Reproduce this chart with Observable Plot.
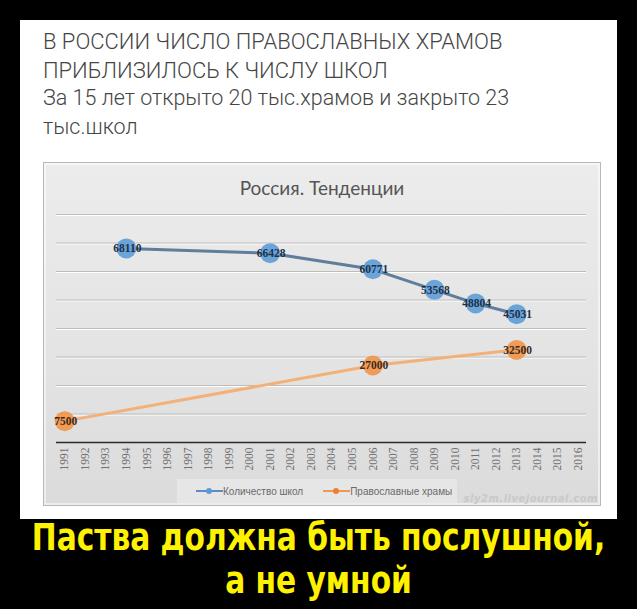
<!DOCTYPE html>
<html>
<head>
<meta charset="utf-8">
<script src="https://cdn.jsdelivr.net/npm/d3@7"></script>
<script src="https://cdn.jsdelivr.net/npm/@observablehq/plot@0.6"></script>
<style>
  html, body { margin: 0; padding: 0; background: #000; }
  #page { position: relative; width: 637px; height: 609px; background: #000; overflow: hidden; }
  #card { position: absolute; left: 20px; top: 20px; width: 597px; height: 499px; background: #fff; }
  .hl { position: absolute; left: 43px; font-family: Roboto, sans-serif; font-weight: 300; font-size: 21.5px; color: #454545; white-space: nowrap; line-height: 1; }
  #panel { position: absolute; left: 43px; top: 162px; width: 556px; height: 342px; border: 1px solid #b8b8b8;
           background: linear-gradient(#ececec, #e3e3e3 60%, #dbdbdb); box-shadow: inset 0 0 0 2px rgba(255,255,255,0.5); }
  #ctitle { position: absolute; left: 0; width: 100%; top: 13px; text-align: center; font-family: Lato, "Open Sans", sans-serif; font-size: 19px; color: #555; }
  #chart { position: absolute; left: 0; top: 37px; }
  #legend { position: absolute; left: 133px; top: 316px; width: 280px; height: 24px; background: rgba(255,255,255,0.3);
            font-family: "Liberation Sans", Arial, sans-serif; font-size: 10px; color: #6a6a6a; display: flex; align-items: center; }
  .key { display: inline-flex; align-items: center; margin-left: 19px; }
  .key + .key { margin-left: 20px; }
  .sw { position: relative; width: 27px; height: 10px; }
  .sw .ln { position: absolute; left: 0; right: 0; top: 4px; height: 2px; }
  .sw .dt { position: absolute; left: 10px; top: 2px; width: 6px; height: 6px; border-radius: 50%; }
  #wm { position: absolute; right: 2px; bottom: 1px; font-family: "DejaVu Sans", sans-serif; font-style: italic; font-weight: bold; font-size: 10px; color: #c9c9c9; letter-spacing: 0.5px; }
  .cap { position: absolute; left: 0; width: 637px; text-align: center; font-family: "DejaVu Sans Condensed", "DejaVu Sans", sans-serif; font-weight: bold; font-size: 33px; color: #fff200; line-height: 1; white-space: nowrap; transform: scaleY(1.12); transform-origin: 50% 0; }
</style>
</head>
<body>
<div id="page">
  <div id="card"></div>
  <div class="hl" style="top:31px; font-size:22px">В РОССИИ ЧИСЛО ПРАВОСЛАВНЫХ ХРАМОВ</div>
  <div class="hl" style="top:60px; font-size:22px">ПРИБЛИЗИЛОСЬ К ЧИСЛУ ШКОЛ</div>
  <div class="hl" style="top:87px">За 15 лет открыто 20 тыс.храмов и закрыто 23</div>
  <div class="hl" style="top:116px">тыс.школ</div>
  <div id="panel">
    <div id="ctitle">Россия. Тенденции</div>
    <div id="chart"></div>
    <div id="legend">
      <span class="key"><span class="sw"><span class="ln" style="background:#5b8fc4"></span><span class="dt" style="background:#5b9bd5"></span></span>Количество школ</span>
      <span class="key"><span class="sw"><span class="ln" style="background:#ee9a55"></span><span class="dt" style="background:#ed7d31"></span></span>Православные храмы</span>
    </div>
    <div id="wm">sly2m.livejournal.com</div>
  </div>
  <div class="cap" style="top:519px">Паства должна быть послушной,</div>
  <div class="cap" style="top:562px">а не умной</div>
</div>
<script>
// Data
const yearTicks = [1991, 1992, 1993, 1994, 1995, 1996, 1997, 1998, 1999, 2000, 2001, 2002, 2003,
                   2004, 2005, 2006, 2007, 2008, 2009, 2010, 2011, 2012, 2013, 2014, 2015, 2016];
const schoolYears = [1994, 2001, 2006, 2009, 2011, 2013];
const schoolValues = [68110, 66428, 60771, 53568, 48804, 45031];
const churchYears = [1991, 2006, 2013];
const churchValues = [7500, 27000, 32500];
const gridValues = [10000, 20000, 30000, 40000, 50000, 60000, 70000, 80000];
const seriesNames = ["Количество школ", "Православные храмы"];

const schools = schoolYears.map((year, i) => ({year, value: schoolValues[i], series: seriesNames[0]}));
const churches = churchYears.map((year, i) => ({year, value: churchValues[i], series: seriesNames[1]}));

const chart = Plot.plot({
  width: 556,
  height: 275,
  marginLeft: 12,
  marginRight: 14,
  marginTop: 14,
  marginBottom: 33,
  style: {background: "transparent", overflow: "visible"},
  x: {domain: [1990.6, 2016.4], label: null},
  y: {domain: [0, 80000], axis: null},
  marks: [
    Plot.ruleY(gridValues, {stroke: "#ffffff", strokeWidth: 1, dy: 1}),
    Plot.ruleY(gridValues, {stroke: "#bdbdbd", strokeWidth: 1.2}),
    Plot.ruleY([0], {stroke: "#2a2a2a", strokeWidth: 1.6}),
    Plot.axisX({ticks: yearTicks, tickFormat: d => String(d), tickRotate: -90, tickSize: 0, tickPadding: 5,
                fontSize: 11.5, fill: "#707070", fontFamily: "Liberation Serif, serif", label: null}),
    Plot.line(churches, {x: "year", y: "value", stroke: "#f3b079", strokeWidth: 3}),
    Plot.line(schools, {x: "year", y: "value", stroke: "#5f7e9c", strokeWidth: 3}),
    Plot.dot(churches, {x: "year", y: "value", r: 10, fill: "#f0984f", fillOpacity: 0.95}),
    Plot.dot(schools, {x: "year", y: "value", r: 10, fill: "#64a0d8", fillOpacity: 0.95}),
    Plot.text(churches, {x: "year", y: "value", text: d => String(d.value), dx: 1,
                         fontSize: 11.5, fontWeight: "bold", fontFamily: "Liberation Serif, serif", fill: "#3a2a1e"}),
    Plot.text(schools, {x: "year", y: "value", text: d => String(d.value), dx: 1,
                        fontSize: 11.5, fontWeight: "bold", fontFamily: "Liberation Serif, serif", fill: "#1d3147"})
  ]
});
document.getElementById("chart").appendChild(chart);
</script>
</body>
</html>
